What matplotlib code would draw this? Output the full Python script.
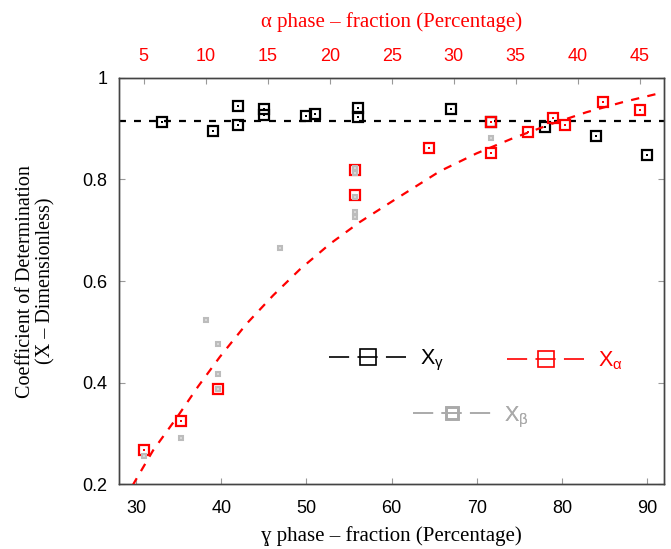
import matplotlib
matplotlib.use("Agg")
import matplotlib.pyplot as plt
from matplotlib.lines import Line2D

plt.rcParams["font.family"] = ["Liberation Sans", "DejaVu Sans"]
plt.rcParams["mathtext.fontset"] = "custom"
plt.rcParams["mathtext.rm"] = "Liberation Sans"
plt.rcParams["mathtext.it"] = "Liberation Sans"
plt.rcParams["lines.scale_dashes"] = False

# X_gamma against gamma phase fraction (bottom axis)
gamma_frac = [33.0, 39.0, 42.0, 42.0, 45.0, 45.0, 50.0, 51.0, 56.0, 56.0,
              67.0, 71.6, 78.0, 84.0, 90.0]
x_gamma = [0.912, 0.896, 0.945, 0.906, 0.938, 0.926, 0.925, 0.929, 0.940,
           0.923, 0.938, 0.912, 0.904, 0.885, 0.848]
x_gamma_mean = 0.915

# X_alpha against alpha phase fraction (top axis)
alpha_frac = [5, 8, 11, 22, 22, 28, 33, 33, 36, 38, 39, 42, 45]
x_alpha = [0.267, 0.325, 0.387, 0.818, 0.770, 0.862, 0.912, 0.852, 0.893,
           0.921, 0.906, 0.952, 0.937]

# X_beta against alpha phase fraction (top axis)
beta_alpha_frac = [5, 8, 10, 11, 11, 11, 16, 22, 22, 22, 22, 22, 33]
x_beta = [0.256, 0.292, 0.524, 0.477, 0.417, 0.387, 0.665, 0.822, 0.812,
          0.766, 0.736, 0.727, 0.881]

# fitted trend of X_alpha (top axis)
fit_alpha = [4.10, 4.26, 5.75, 7.65, 9.39, 11.14, 13.29, 15.44, 17.59, 20.01,
             22.42, 25.11, 28.88, 31.83, 34.78, 37.87, 40.70, 43.65, 46.87]
fit_x = [0.198, 0.205, 0.267, 0.331, 0.393, 0.451, 0.516, 0.572, 0.623, 0.673,
         0.716, 0.758, 0.816, 0.851, 0.881, 0.909, 0.932, 0.952, 0.971]

gamma_ticks = [30, 40, 50, 60, 70, 80, 90]
alpha_ticks = [5, 10, 15, 20, 25, 30, 35, 40, 45]
y_ticks = [0.2, 0.4, 0.6, 0.8, 1.0]
y_ticklabels = ["0.2", "0.4", "0.6", "0.8", "1"]

RED = "#ff0000"
GREY = "#bcbcbc"
SPINE = "#444444"
TICK = "#999999"

fig = plt.figure(figsize=(6.71, 5.49), dpi=100)
ax = fig.add_axes([0.1773, 0.1175, 0.8130, 0.7410])
ax2 = ax.twiny()

ax.set_xlim(28, 92)
ax.set_ylim(0.2, 1.0)
ax2.set_xlim(3, 47)

# mean level of X_gamma
ax.axhline(x_gamma_mean, color="black", lw=1.6, linestyle=(0, (5.0, 5.8)), zorder=2)

# X_gamma markers with centre dot
ax.plot(gamma_frac, x_gamma, linestyle="none", marker="s", ms=7.6,
        mfc="none", mec="black", mew=1.6, zorder=3)
ax.plot(gamma_frac, x_gamma, linestyle="none", marker="s", ms=1.6,
        mfc="black", mec="black", mew=0, zorder=3)

# X_alpha markers and fit
ax2.plot(fit_alpha, fit_x, color=RED, lw=1.6, linestyle=(0, (6.0, 6.0)),
         zorder=4, clip_on=True)
ax2.plot(alpha_frac, x_alpha, linestyle="none", marker="s", ms=7.6,
         mfc="none", mec=RED, mew=1.6, zorder=5)
ax2.plot(alpha_frac, x_alpha, linestyle="none", marker="s", ms=1.6,
         mfc=RED, mec=RED, mew=0, zorder=5)

# X_beta markers
ax2.plot(beta_alpha_frac, x_beta, linestyle="none", marker="s", ms=3.4,
         mfc="#dadada", mec=GREY, mew=1.5, zorder=6)

# axes styling
for a in (ax, ax2):
    for s in a.spines.values():
        s.set_color(SPINE)
        s.set_linewidth(1.0)

ax.set_xticks(gamma_ticks)
ax.set_yticks(y_ticks)
ax.set_yticklabels(y_ticklabels)
ax.tick_params(axis="x", direction="in", length=4.5, width=0.8, color=TICK,
               labelsize=13, pad=11, labelcolor="black", top=False)
ax.tick_params(axis="y", direction="in", length=4.5, width=0.8, color=TICK,
               labelsize=13, pad=8.5, labelcolor="black", right=True)

ax2.set_xticks(alpha_ticks)
ax2.tick_params(axis="x", direction="in", length=4.5, width=0.8, color=TICK,
                labelsize=13, pad=9, labelcolor=RED)

serif = ["Liberation Serif", "DejaVu Serif"]
ax.set_xlabel("ɣ phase – fraction (Percentage)", family=serif, fontsize=15,
              labelpad=7)
ax2.set_xlabel("α phase – fraction (Percentage)", family=serif, fontsize=15,
               color=RED, labelpad=15)
ax.set_ylabel("Coefficient of Determination\n(X – Dimensionless)", family=serif,
              fontsize=14.5, labelpad=19, linespacing=1.1)

# legend entries
def handle(color, ms, mew):
    return Line2D([], [], color=color, lw=1.2, linestyle=(0, (14.5, 6.0)),
                  marker="s", ms=ms, mfc="none", mec=color, mew=mew)

legend_specs = [
    (handle("black", 12.0, 1.2), "X$_{\\mathrm{γ}}$", "black", (0.385, 0.304)),
    (handle(RED, 12.0, 1.2), "X$_{\\mathrm{α}}$", RED, (0.711, 0.304)),
    (handle("#aaaaaa", 8.2, 1.9), "X$_{\\mathrm{β}}$", "#aaaaaa", (0.539, 0.166)),
]
for h, label, col, anchor in legend_specs:
    leg = ax.legend([h], [label], loc="center left", bbox_to_anchor=anchor,
                    bbox_transform=ax.transAxes, frameon=False, fontsize=15.5,
                    handlelength=3.6, handletextpad=0.65, borderpad=0,
                    borderaxespad=0, numpoints=1)
    for t in leg.get_texts():
        t.set_color(col)
    ax.add_artist(leg)

fig.savefig("out.png", dpi=100)
